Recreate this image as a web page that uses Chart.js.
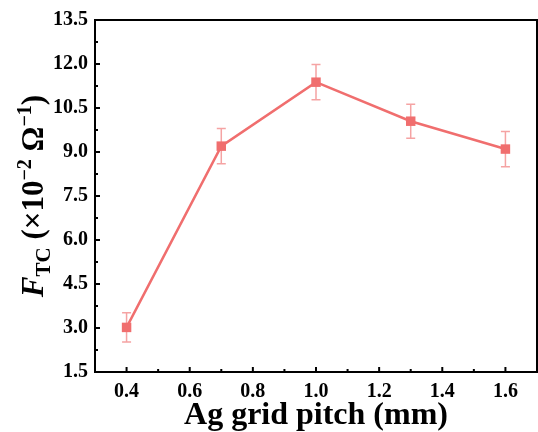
<!DOCTYPE html>
<html>
<head>
<meta charset="utf-8">
<script src="https://cdn.jsdelivr.net/npm/chart.js@4"></script>
<style>
html,body{margin:0;padding:0;background:#fff;}
#wrap{width:538px;height:432px;}
</style>
</head>
<body>
<div id="wrap"><canvas id="c" width="538" height="432"></canvas></div>
<script>
const pitch = [0.4, 0.7, 1.0, 1.3, 1.6];
const ftc = [3.02, 9.2, 11.38, 10.05, 9.1];
const ftcErr = [0.5, 0.6, 0.6, 0.58, 0.6];
const xTickValues = [0.4, 0.6, 0.8, 1.0, 1.2, 1.4, 1.6];
const yTickValues = [1.5, 3.0, 4.5, 6.0, 7.5, 9.0, 10.5, 12.0, 13.5];
const xTitle = 'Ag grid pitch (mm)';

const FONT = '"Liberation Serif", "Times New Roman", serif';
const LINE_COLOR = '#f06e6e';
const ERR_COLOR = '#f5a3a3';

const framePlugin = {
  id: 'frame',
  beforeDatasetsDraw(chart) {
    const ctx = chart.ctx;
    const xs = chart.scales.x, ys = chart.scales.y;
    ctx.save();
    ctx.strokeStyle = ERR_COLOR;
    ctx.lineWidth = 1.5;
    for (let i = 0; i < pitch.length; i++) {
      const px = xs.getPixelForValue(pitch[i]);
      const top = ys.getPixelForValue(ftc[i] + ftcErr[i]);
      const bot = ys.getPixelForValue(ftc[i] - ftcErr[i]);
      ctx.beginPath();
      ctx.moveTo(px, top); ctx.lineTo(px, bot);
      ctx.moveTo(px - 4.5, top); ctx.lineTo(px + 4.5, top);
      ctx.moveTo(px - 4.5, bot); ctx.lineTo(px + 4.5, bot);
      ctx.stroke();
    }
    ctx.restore();
  },
  afterDraw(chart) {
    const ctx = chart.ctx;
    const a = chart.chartArea;
    const xs = chart.scales.x, ys = chart.scales.y;
    ctx.save();
    ctx.strokeStyle = '#000';
    ctx.lineWidth = 2;
    ctx.strokeRect(a.left, a.top, a.right - a.left, a.bottom - a.top);
    ctx.beginPath();
    for (let i = 0; i < yTickValues.length; i++) {
      const py = ys.getPixelForValue(yTickValues[i]);
      ctx.moveTo(a.left, py); ctx.lineTo(a.left + 5, py);
      if (i < yTickValues.length - 1) {
        const pm = ys.getPixelForValue((yTickValues[i] + yTickValues[i + 1]) / 2);
        ctx.moveTo(a.left, pm); ctx.lineTo(a.left + 3, pm);
      }
    }
    for (let i = 0; i < xTickValues.length; i++) {
      const px = xs.getPixelForValue(xTickValues[i]);
      ctx.moveTo(px, a.bottom); ctx.lineTo(px, a.bottom - 5);
      if (i < xTickValues.length - 1) {
        const pm = xs.getPixelForValue((xTickValues[i] + xTickValues[i + 1]) / 2);
        ctx.moveTo(pm, a.bottom); ctx.lineTo(pm, a.bottom - 3);
      }
    }
    ctx.stroke();

    const segs = [
      {t: 'F', f: 'italic bold 31px ' + FONT, dy: 0},
      {t: 'TC', f: 'bold 21px ' + FONT, dy: 7},
      {t: ' (\u00d710', f: 'bold 31px ' + FONT, dy: 0},
      {t: '\u22122', f: 'bold 20px ' + FONT, dy: -12},
      {t: ' \u03a9', f: 'bold 31px ' + FONT, dy: 0},
      {t: '\u22121', f: 'bold 20px ' + FONT, dy: -12},
      {t: ')', f: 'bold 31px ' + FONT, dy: 0}
    ];
    let total = 0;
    segs.forEach(s => { ctx.font = s.f; s.w = ctx.measureText(s.t).width; total += s.w; });
    const cy = (a.top + a.bottom) / 2;
    ctx.translate(43, cy);
    ctx.rotate(-Math.PI / 2);
    ctx.fillStyle = '#000';
    ctx.textBaseline = 'alphabetic';
    ctx.textAlign = 'left';
    let x = -total / 2;
    segs.forEach(s => { ctx.font = s.f; ctx.fillText(s.t, x, s.dy); x += s.w; });
    ctx.restore();
  }
};

new Chart(document.getElementById('c'), {
  type: 'line',
  data: {
    datasets: [{
      data: pitch.map((p, i) => ({x: p, y: ftc[i]})),
      borderColor: LINE_COLOR,
      backgroundColor: LINE_COLOR,
      borderWidth: 2.5,
      pointStyle: 'rect',
      pointRadius: 6.7,
      pointHoverRadius: 6.7,
      pointBorderWidth: 0,
      tension: 0
    }]
  },
  options: {
    responsive: false,
    animation: false,
    events: [],
    layout: {autoPadding: false, padding: {top: 20, right: 1, left: 0, bottom: 0}},
    plugins: {legend: {display: false}, tooltip: {enabled: false}},
    scales: {
      x: {
        type: 'linear', min: 0.3, max: 1.7,
        afterBuildTicks: s => { s.ticks = xTickValues.map(v => ({value: v})); },
        afterFit: s => { s.height = 60; s.paddingLeft = 0; s.paddingRight = 0; },
        grid: {display: false, drawTicks: false},
        border: {display: false},
        ticks: {
          padding: 8, color: '#000', maxRotation: 0,
          font: {family: FONT, size: 20, weight: 'bold'},
          callback: v => v.toFixed(1)
        },
        title: {
          display: true, text: xTitle, color: '#000',
          font: {family: FONT, size: 32, weight: 'bold', lineHeight: 1},
          padding: {top: 0, bottom: 0}
        }
      },
      y: {
        type: 'linear', min: 1.5, max: 13.5,
        afterBuildTicks: s => { s.ticks = yTickValues.map(v => ({value: v})); },
        afterFit: s => { s.width = 95; s.paddingTop = 0; s.paddingBottom = 0; },
        grid: {display: false, drawTicks: false},
        border: {display: false},
        ticks: {
          padding: 7, color: '#000',
          font: {family: FONT, size: 20, weight: 'bold'},
          callback: v => v.toFixed(1)
        },
        title: {display: false}
      }
    }
  },
  plugins: [framePlugin]
});
</script>
</body>
</html>
